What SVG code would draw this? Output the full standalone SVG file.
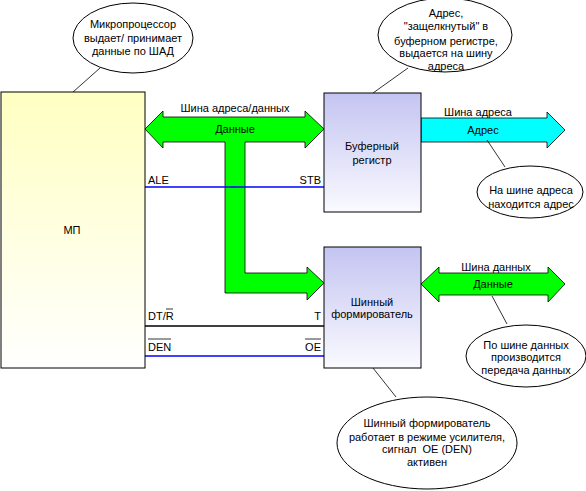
<svg xmlns="http://www.w3.org/2000/svg" width="586" height="491" viewBox="0 0 586 491">
<defs>
<linearGradient id="gY" x1="0" y1="0" x2="0" y2="1"><stop offset="0" stop-color="#FFFFC2"/><stop offset="1" stop-color="#FFFFFF"/></linearGradient>
<linearGradient id="gB" x1="0" y1="0" x2="0" y2="1"><stop offset="0" stop-color="#C4C4F2"/><stop offset="1" stop-color="#FAFAFF"/></linearGradient>
</defs>
<style>
text{font-family:"Liberation Sans",Arial,sans-serif;font-size:11px;fill:#000}
.c{text-anchor:middle}
.r{text-anchor:end}
.box{stroke:#000;stroke-width:1}
.call{fill:#fff;stroke:#000;stroke-width:1}
.lead{stroke:#000;stroke-width:0.8;fill:none}
.arr{stroke:#000;stroke-width:0.8}
.ov{stroke:#000;stroke-width:0.8}
</style>
<g id="connectors">
<path class="arr" fill="#00FF00" d="M145,129 L163,111 L163,117 L305,117 L305,111 L324,129 L305,148 L305,142 L245,142 L245,273 L307,273 L307,267 L324,283 L307,300 L307,293 L225,293 L225,142 L163,142 L163,148 Z"/>
<path class="arr" fill="#00FFFF" d="M421,118 L547,118 L547,112 L565,130 L547,148 L547,142 L421,142 Z"/>
<path class="arr" fill="#00FF00" d="M421,284 L439,267 L439,273 L548,273 L548,267 L565,284 L548,302 L548,295 L439,295 L439,302 Z"/>
<line x1="145" y1="187" x2="324" y2="187" stroke="#0000FF" stroke-width="1.5"/>
<line x1="145" y1="326" x2="324" y2="326" stroke="#000" stroke-width="1.5"/>
<line x1="145" y1="356" x2="324" y2="356" stroke="#0000FF" stroke-width="1.5"/>
<line class="lead" x1="100" y1="68" x2="73" y2="92"/>
<line class="lead" x1="408" y1="68" x2="373" y2="93"/>
<line class="lead" x1="487" y1="140" x2="505" y2="167"/>
<line class="lead" x1="492" y1="296" x2="507" y2="324"/>
<line class="lead" x1="373" y1="368" x2="396" y2="397"/>
<text class="c" x="235" y="112">Шина адреса/данных</text>
<text class="c" x="235" y="133">Данные</text>
<text class="c" x="478" y="116">Шина адреса</text>
<text class="c" x="483" y="134">Адрес</text>
<text class="c" x="496" y="271">Шина данных</text>
<text class="c" x="493" y="288">Данные</text>
<text x="148" y="184">ALE</text>
<text class="r" x="321" y="184">STB</text>
<text x="148" y="320">DT/R</text>
<line class="ov" x1="166" y1="309" x2="173" y2="309"/>
<text class="r" x="321" y="320">T</text>
<text x="148" y="351">DEN</text>
<line class="ov" x1="148" y1="339" x2="171" y2="339"/>
<text class="r" x="321" y="351">OE</text>
<line class="ov" x1="305" y1="339" x2="321" y2="339"/>
</g>
<g id="mp">
<rect class="box" x="1" y="92" width="144" height="276" fill="url(#gY)"/>
<text class="c" x="72" y="234">МП</text>
</g>
<g id="buffer">
<rect class="box" x="324" y="93" width="97" height="119" fill="url(#gB)"/>
<text class="c" x="372" y="150">Буферный</text>
<text class="c" x="372" y="164">регистр</text>
</g>
<g id="driver">
<rect class="box" x="324" y="247" width="97" height="121" fill="url(#gB)"/>
<text class="c" x="372" y="306">Шинный</text>
<text class="c" x="372" y="318">формирователь</text>
</g>
<g id="note-mp">
<ellipse class="call" cx="133" cy="38" rx="60" ry="35"/>
<text class="c" x="133" y="28">Микропроцессор</text>
<text class="c" x="133" y="42">выдает/ принимает</text>
<text class="c" x="133" y="55">данные по ШАД</text>
</g>
<g id="note-buffer">
<ellipse class="call" cx="445" cy="35" rx="67" ry="37"/>
<text class="c" x="446" y="17">Адрес,</text>
<text class="c" x="446" y="30">"защелкнутый" в</text>
<text class="c" x="446" y="45">буферном регистре,</text>
<text class="c" x="446" y="57">выдается на шину</text>
<text class="c" x="446" y="70">адреса</text>
</g>
<g id="note-address">
<ellipse class="call" cx="530" cy="192" rx="53" ry="26"/>
<text class="c" x="531" y="194">На шине адреса</text>
<text class="c" x="531" y="208">находится адрес</text>
</g>
<g id="note-data">
<ellipse class="call" cx="526" cy="356" rx="60" ry="31"/>
<text class="c" x="526" y="349">По шине данных</text>
<text class="c" x="526" y="361">производится</text>
<text class="c" x="526" y="374">передача данных</text>
</g>
<g id="note-driver">
<ellipse class="call" cx="427" cy="443" rx="90" ry="46"/>
<text class="c" x="427" y="427">Шинный формирователь</text>
<text class="c" x="427" y="441">работает в режиме усилителя,</text>
<text class="c" x="427" y="453" xml:space="preserve">сигнал  OE (DEN)</text>
<text class="c" x="427" y="466">активен</text>
</g>
</svg>
